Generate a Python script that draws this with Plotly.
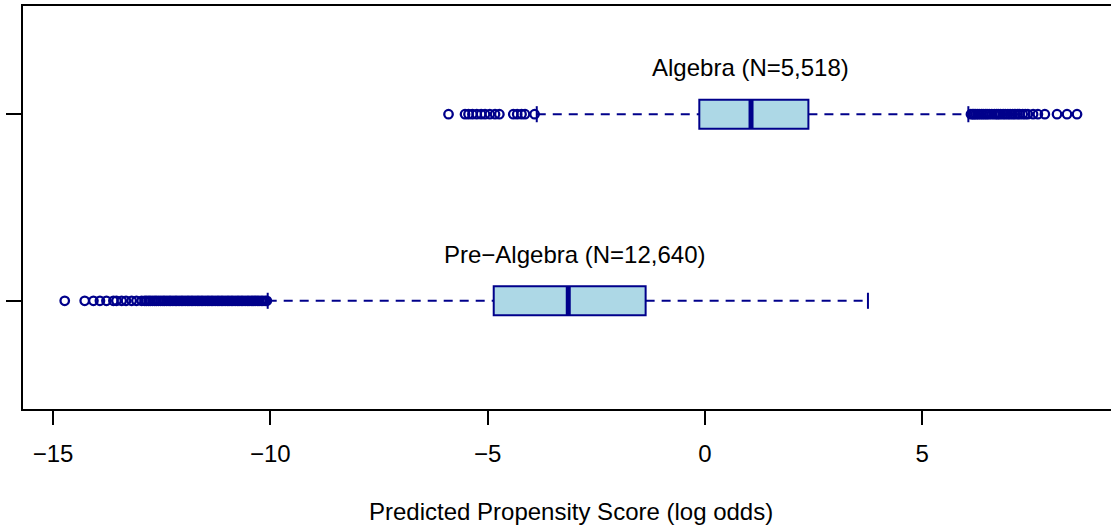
import plotly.graph_objects as go

# Course groups (y position 2 = Algebra, 1 = Pre-Algebra)
groups = ["Algebra", "Pre\u2212Algebra"]
group_pos = [2, 1]
group_labels = ["Algebra (N=5,518)", "Pre\u2212Algebra (N=12,640)"]

# Five-number summaries of the predicted propensity score (log odds)
q1 = [-0.13, -4.86]
median = [1.06, -3.145]
q3 = [2.38, -1.365]
whisker_low = [-3.87, -10.06]
whisker_high = [6.06, 3.75]

# Points beyond the whiskers
algebra_outliers = [
    -5.90, -5.52, -5.44, -5.35, -5.25, -5.15, -5.06, -4.95, -4.83, -4.73,
    -4.41, -4.32, -4.22, -4.14, -3.92,
    6.12, 6.16, 6.19, 6.23, 6.27, 6.31, 6.36, 6.40, 6.45, 6.49, 6.54, 6.60,
    6.66, 6.71, 6.75, 6.80, 6.86, 6.91, 6.97, 7.02, 7.08, 7.13, 7.19, 7.24,
    7.31, 7.37, 7.43, 7.55, 7.66, 7.82, 8.10, 8.33, 8.56,
]
prealgebra_outliers = [
    -14.73, -14.27, -14.07, -13.92, -13.77, -13.61, -13.54, -13.42, -13.32,
    -13.19, -13.08, -12.96,
    -12.89, -12.85, -12.80, -12.76, -12.71, -12.66, -12.62, -12.57, -12.52,
    -12.47, -12.43, -12.38, -12.33, -12.29, -12.24, -12.19, -12.15, -12.10,
    -12.05, -12.01, -11.96, -11.91, -11.87, -11.82, -11.78, -11.73, -11.68,
    -11.64, -11.59, -11.55, -11.50, -11.45, -11.41, -11.36, -11.32, -11.27,
    -11.22, -11.18, -11.13, -11.09, -11.04, -10.99, -10.95, -10.90, -10.86,
    -10.81, -10.76, -10.72, -10.67, -10.63, -10.58, -10.53, -10.49, -10.44,
    -10.40, -10.35, -10.30, -10.26, -10.21, -10.17, -10.12, -10.08,
]
outliers = [algebra_outliers, prealgebra_outliers]

x_ticks = [-15, -10, -5, 0, 5]

LINE = "#00008B"
FILL = "#ADD8E6"
FONT = "Liberation Sans, Arial, Helvetica, sans-serif"
FS = 24
BOX_W = 0.155      # box thickness in y units
CAP_H = 0.043      # half-height of whisker end caps

fig = go.Figure()

for i, pos in enumerate(group_pos):
    # dashed whiskers
    fig.add_trace(go.Scatter(
        x=[whisker_low[i], q1[i], None, q3[i], whisker_high[i]],
        y=[pos, pos, None, pos, pos],
        mode="lines", line=dict(color=LINE, width=2, dash="9px,7px"),
        hoverinfo="skip", showlegend=False,
    ))
    # whisker caps
    fig.add_trace(go.Scatter(
        x=[whisker_low[i], whisker_low[i], None, whisker_high[i], whisker_high[i]],
        y=[pos - CAP_H, pos + CAP_H, None, pos - CAP_H, pos + CAP_H],
        mode="lines", line=dict(color=LINE, width=2),
        hoverinfo="skip", showlegend=False,
    ))
    # box from precomputed quartiles
    fig.add_trace(go.Box(
        y=[pos], q1=[q1[i]], median=[median[i]], q3=[q3[i]],
        lowerfence=[q1[i]], upperfence=[q3[i]],
        orientation="h", width=BOX_W, whiskerwidth=0,
        fillcolor=FILL, line=dict(color=LINE, width=2),
        boxpoints=False, name=groups[i], showlegend=False,
    ))
    # heavy median bar
    fig.add_trace(go.Scatter(
        x=[median[i], median[i]], y=[pos - BOX_W / 2, pos + BOX_W / 2],
        mode="lines", line=dict(color=LINE, width=5),
        hoverinfo="skip", showlegend=False,
    ))
    # outliers
    fig.add_trace(go.Scatter(
        x=outliers[i], y=[pos] * len(outliers[i]),
        mode="markers",
        marker=dict(symbol="circle-open", size=8.5, color=LINE, line=dict(width=2.3, color=LINE)),
        showlegend=False, name=groups[i],
    ))
    # group label above each box
    fig.add_annotation(
        x=[1.04, -3.0][i], y=pos + 0.248, xref="x", yref="y",
        text=group_labels[i], showarrow=False,
        font=dict(family=FONT, size=FS, color="black"),
    )

# axis title, positioned in pixels below the plot area
fig.add_annotation(
    x=-3.08, y=-(512 - 409.3) / (409.3 - 6), xref="x", yref="paper", yanchor="middle",
    text="Predicted Propensity Score (log odds)", showarrow=False,
    font=dict(family=FONT, size=FS, color="black"),
)

fig.update_layout(
    width=1111, height=531,
    margin=dict(l=23, r=0, t=6, b=122),
    paper_bgcolor="white", plot_bgcolor="white",
    font=dict(family=FONT, size=FS, color="black"),
    xaxis=dict(
        range=[-15.69, 9.342], tickvals=x_ticks,
        ticks="outside", ticklen=14, tickwidth=2, tickcolor="black",
        showline=True, linewidth=2, linecolor="black", mirror=True,
        showgrid=False, zeroline=False,
        tickfont=dict(family=FONT, size=FS, color="black"),
        ticklabelstandoff=8,
    ),
    yaxis=dict(
        range=[0.42, 2.58], tickvals=group_pos, showticklabels=False,
        ticks="outside", ticklen=15, tickwidth=2, tickcolor="black",
        showline=True, linewidth=2, linecolor="black", mirror=False,
        showgrid=False, zeroline=False,
    ),
)

fig.write_html("out.html")
